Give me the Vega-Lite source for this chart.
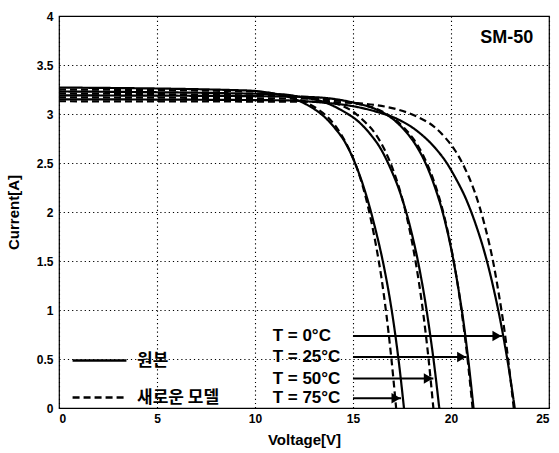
{
  "$schema": "https://vega.github.io/schema/vega-lite/v6.json",
  "width": 490,
  "height": 392,
  "autosize": {"type": "none"},
  "padding": {"left": 59, "top": 16, "right": 10, "bottom": 45},
  "background": "white",
  "config": {
    "view": {"stroke": "black", "strokeWidth": 1.2},
    "font": "Liberation Sans",
    "axis": {
      "grid": true,
      "gridColor": "black",
      "gridDash": [1.2, 3],
      "gridOpacity": 1,
      "gridWidth": 1.1,
      "domain": false,
      "ticks": false,
      "labelFont": "Liberation Sans",
      "labelFontWeight": "bold",
      "labelFontSize": 12,
      "labelColor": "black",
      "titleFont": "Liberation Sans",
      "titleFontWeight": "bold",
      "titleFontSize": 15,
      "titleColor": "black"
    }
  },
  "datasets": {
    "curves": [
      {"T": "75", "model": "원본", "V": 0, "I": 3.27},
      {"T": "75", "model": "원본", "V": 9.6, "I": 3.24},
      {"T": "75", "model": "원본", "V": 10.6, "I": 3.22},
      {"T": "75", "model": "원본", "V": 11.6, "I": 3.18},
      {"T": "75", "model": "원본", "V": 12.6, "I": 3.1},
      {"T": "75", "model": "원본", "V": 13.6, "I": 2.96},
      {"T": "75", "model": "원본", "V": 14.1, "I": 2.85},
      {"T": "75", "model": "원본", "V": 14.6, "I": 2.71},
      {"T": "75", "model": "원본", "V": 15.1, "I": 2.5},
      {"T": "75", "model": "원본", "V": 15.6, "I": 2.22},
      {"T": "75", "model": "원본", "V": 16.1, "I": 1.86},
      {"T": "75", "model": "원본", "V": 16.6, "I": 1.42},
      {"T": "75", "model": "원본", "V": 16.85, "I": 1.15},
      {"T": "75", "model": "원본", "V": 17.1, "I": 0.83},
      {"T": "75", "model": "원본", "V": 17.35, "I": 0.45},
      {"T": "75", "model": "원본", "V": 17.6, "I": 0},

      {"T": "75", "model": "새로운 모델", "V": 0, "I": 3.25},
      {"T": "75", "model": "새로운 모델", "V": 10, "I": 3.23},
      {"T": "75", "model": "새로운 모델", "V": 11.2, "I": 3.2},
      {"T": "75", "model": "새로운 모델", "V": 12.2, "I": 3.15},
      {"T": "75", "model": "새로운 모델", "V": 13.2, "I": 3.05},
      {"T": "75", "model": "새로운 모델", "V": 13.7, "I": 2.97},
      {"T": "75", "model": "새로운 모델", "V": 14.2, "I": 2.85},
      {"T": "75", "model": "새로운 모델", "V": 14.7, "I": 2.68},
      {"T": "75", "model": "새로운 모델", "V": 15.2, "I": 2.45},
      {"T": "75", "model": "새로운 모델", "V": 15.7, "I": 2.11},
      {"T": "75", "model": "새로운 모델", "V": 16.2, "I": 1.63},
      {"T": "75", "model": "새로운 모델", "V": 16.45, "I": 1.33},
      {"T": "75", "model": "새로운 모델", "V": 16.7, "I": 0.96},
      {"T": "75", "model": "새로운 모델", "V": 16.95, "I": 0.52},
      {"T": "75", "model": "새로운 모델", "V": 17.2, "I": 0},

      {"T": "50", "model": "원본", "V": 0, "I": 3.23},
      {"T": "50", "model": "원본", "V": 11.4, "I": 3.2},
      {"T": "50", "model": "원본", "V": 12.4, "I": 3.17},
      {"T": "50", "model": "원본", "V": 13.4, "I": 3.13},
      {"T": "50", "model": "원본", "V": 14.4, "I": 3.04},
      {"T": "50", "model": "원본", "V": 15.4, "I": 2.9},
      {"T": "50", "model": "원본", "V": 15.9, "I": 2.79},
      {"T": "50", "model": "원본", "V": 16.4, "I": 2.65},
      {"T": "50", "model": "원본", "V": 16.9, "I": 2.45},
      {"T": "50", "model": "원본", "V": 17.4, "I": 2.2},
      {"T": "50", "model": "원본", "V": 17.9, "I": 1.86},
      {"T": "50", "model": "원본", "V": 18.4, "I": 1.41},
      {"T": "50", "model": "원본", "V": 18.65, "I": 1.13},
      {"T": "50", "model": "원본", "V": 18.9, "I": 0.8},
      {"T": "50", "model": "원본", "V": 19.15, "I": 0.43},
      {"T": "50", "model": "원본", "V": 19.4, "I": 0},

      {"T": "50", "model": "새로운 모델", "V": 0, "I": 3.21},
      {"T": "50", "model": "새로운 모델", "V": 12.1, "I": 3.18},
      {"T": "50", "model": "새로운 모델", "V": 13.1, "I": 3.16},
      {"T": "50", "model": "새로운 모델", "V": 14.1, "I": 3.11},
      {"T": "50", "model": "새로운 모델", "V": 15.1, "I": 3.01},
      {"T": "50", "model": "새로운 모델", "V": 15.6, "I": 2.92},
      {"T": "50", "model": "새로운 모델", "V": 16.1, "I": 2.81},
      {"T": "50", "model": "새로운 모델", "V": 16.6, "I": 2.64},
      {"T": "50", "model": "새로운 모델", "V": 17.1, "I": 2.4},
      {"T": "50", "model": "새로운 모델", "V": 17.6, "I": 2.07},
      {"T": "50", "model": "새로운 모델", "V": 18.1, "I": 1.6},
      {"T": "50", "model": "새로운 모델", "V": 18.35, "I": 1.3},
      {"T": "50", "model": "새로운 모델", "V": 18.6, "I": 0.94},
      {"T": "50", "model": "새로운 모델", "V": 18.85, "I": 0.51},
      {"T": "50", "model": "새로운 모델", "V": 19.1, "I": 0},

      {"T": "25", "model": "원본", "V": 0, "I": 3.19},
      {"T": "25", "model": "원본", "V": 11.15, "I": 3.18},
      {"T": "25", "model": "원본", "V": 13.15, "I": 3.17},
      {"T": "25", "model": "원본", "V": 14.15, "I": 3.15},
      {"T": "25", "model": "원본", "V": 15.15, "I": 3.11},
      {"T": "25", "model": "원본", "V": 16.15, "I": 3.05},
      {"T": "25", "model": "원본", "V": 17.15, "I": 2.93},
      {"T": "25", "model": "원본", "V": 17.65, "I": 2.83},
      {"T": "25", "model": "원본", "V": 18.15, "I": 2.7},
      {"T": "25", "model": "원본", "V": 18.65, "I": 2.52},
      {"T": "25", "model": "원본", "V": 19.15, "I": 2.27},
      {"T": "25", "model": "원본", "V": 19.65, "I": 1.94},
      {"T": "25", "model": "원본", "V": 20.15, "I": 1.48},
      {"T": "25", "model": "원본", "V": 20.4, "I": 1.19},
      {"T": "25", "model": "원본", "V": 20.65, "I": 0.86},
      {"T": "25", "model": "원본", "V": 20.9, "I": 0.46},
      {"T": "25", "model": "원본", "V": 21.15, "I": 0},

      {"T": "25", "model": "새로운 모델", "V": 0, "I": 3.17},
      {"T": "25", "model": "새로운 모델", "V": 13.1, "I": 3.155},
      {"T": "25", "model": "새로운 모델", "V": 14.1, "I": 3.14},
      {"T": "25", "model": "새로운 모델", "V": 15.1, "I": 3.11},
      {"T": "25", "model": "새로운 모델", "V": 16.1, "I": 3.06},
      {"T": "25", "model": "새로운 모델", "V": 17.1, "I": 2.95},
      {"T": "25", "model": "새로운 모델", "V": 17.6, "I": 2.86},
      {"T": "25", "model": "새로운 모델", "V": 18.1, "I": 2.74},
      {"T": "25", "model": "새로운 모델", "V": 18.6, "I": 2.57},
      {"T": "25", "model": "새로운 모델", "V": 19.1, "I": 2.33},
      {"T": "25", "model": "새로운 모델", "V": 19.6, "I": 2.0},
      {"T": "25", "model": "새로운 모델", "V": 20.1, "I": 1.54},
      {"T": "25", "model": "새로운 모델", "V": 20.35, "I": 1.25},
      {"T": "25", "model": "새로운 모델", "V": 20.6, "I": 0.9},
      {"T": "25", "model": "새로운 모델", "V": 20.85, "I": 0.49},
      {"T": "25", "model": "새로운 모델", "V": 21.1, "I": 0},

      {"T": "0", "model": "원본", "V": 0, "I": 3.15},
      {"T": "0", "model": "원본", "V": 11.25, "I": 3.14},
      {"T": "0", "model": "원본", "V": 13.25, "I": 3.12},
      {"T": "0", "model": "원본", "V": 15.25, "I": 3.07},
      {"T": "0", "model": "원본", "V": 16.25, "I": 3.02},
      {"T": "0", "model": "원본", "V": 17.25, "I": 2.95},
      {"T": "0", "model": "원본", "V": 18.25, "I": 2.83},
      {"T": "0", "model": "원본", "V": 19.25, "I": 2.64},
      {"T": "0", "model": "원본", "V": 19.75, "I": 2.51},
      {"T": "0", "model": "원본", "V": 20.25, "I": 2.34},
      {"T": "0", "model": "원본", "V": 20.75, "I": 2.14},
      {"T": "0", "model": "원본", "V": 21.25, "I": 1.88},
      {"T": "0", "model": "원본", "V": 21.75, "I": 1.56},
      {"T": "0", "model": "원본", "V": 22.25, "I": 1.15},
      {"T": "0", "model": "원본", "V": 22.5, "I": 0.91},
      {"T": "0", "model": "원본", "V": 22.75, "I": 0.64},
      {"T": "0", "model": "원본", "V": 23.0, "I": 0.34},
      {"T": "0", "model": "원본", "V": 23.25, "I": 0},

      {"T": "0", "model": "새로운 모델", "V": 0, "I": 3.13},
      {"T": "0", "model": "새로운 모델", "V": 13.0, "I": 3.125},
      {"T": "0", "model": "새로운 모델", "V": 15.2, "I": 3.11},
      {"T": "0", "model": "새로운 모델", "V": 16.2, "I": 3.09},
      {"T": "0", "model": "새로운 모델", "V": 17.2, "I": 3.05},
      {"T": "0", "model": "새로운 모델", "V": 18.2, "I": 2.98},
      {"T": "0", "model": "새로운 모델", "V": 19.2, "I": 2.86},
      {"T": "0", "model": "새로운 모델", "V": 19.7, "I": 2.76},
      {"T": "0", "model": "새로운 모델", "V": 20.2, "I": 2.63},
      {"T": "0", "model": "새로운 모델", "V": 20.7, "I": 2.45},
      {"T": "0", "model": "새로운 모델", "V": 21.2, "I": 2.21},
      {"T": "0", "model": "새로운 모델", "V": 21.7, "I": 1.88},
      {"T": "0", "model": "새로운 모델", "V": 22.2, "I": 1.44},
      {"T": "0", "model": "새로운 모델", "V": 22.45, "I": 1.15},
      {"T": "0", "model": "새로운 모델", "V": 22.7, "I": 0.83},
      {"T": "0", "model": "새로운 모델", "V": 22.95, "I": 0.44},
      {"T": "0", "model": "새로운 모델", "V": 23.2, "I": 0}
    ],
    "arrows": [
      {"label": "T = 0°C", "tip": 22.6, "I": 0.735},
      {"label": "T = 25°C", "tip": 20.8, "I": 0.52},
      {"label": "T = 50°C", "tip": 19.1, "I": 0.3},
      {"label": "T = 75°C", "tip": 17.45, "I": 0.1}
    ]
  },
  "layer": [
    {
      "data": {"name": "curves"},
      "mark": {"type": "line", "strokeWidth": 2.2, "color": "black", "interpolate": "monotone"},
      "encoding": {
        "x": {
          "field": "V",
          "type": "quantitative",
          "scale": {"domain": [0, 25], "nice": false},
          "axis": {"title": "Voltage[V]", "values": [0, 5, 10, 15, 20, 25], "labelPadding": 5, "titlePadding": 8}
        },
        "y": {
          "field": "I",
          "type": "quantitative",
          "scale": {"domain": [0, 4], "nice": false},
          "axis": {"title": "Current[A]", "values": [0, 0.5, 1, 1.5, 2, 2.5, 3, 3.5, 4], "format": "~g", "labelPadding": 6, "titlePadding": 15}
        },
        "strokeDash": {
          "field": "model",
          "type": "nominal",
          "scale": {"domain": ["원본", "새로운 모델"], "range": [[1, 0], [7, 4]]},
          "legend": {
            "orient": "none",
            "legendX": 12,
            "legendY": 316,
            "title": null,
            "symbolType": "stroke",
            "symbolSize": 2900,
            "symbolStrokeWidth": 2.5,
            "symbolStrokeColor": "black",
            "labelFont": "Noto Sans CJK KR",
            "labelFontSize": 17,
            "labelFontWeight": "bold",
            "labelColor": "black",
            "labelOffset": 9,
            "rowPadding": 0
          }
        },
        "detail": {"field": "T", "type": "nominal"}
      }
    },
    {
      "data": {"name": "arrows"},
      "mark": {"type": "rule", "strokeWidth": 2, "color": "black"},
      "encoding": {
        "x": {"field": "tip", "type": "quantitative"},
        "x2": {"datum": 15},
        "y": {"field": "I", "type": "quantitative"}
      }
    },
    {
      "data": {"name": "arrows"},
      "mark": {"type": "point", "shape": "triangle-right", "filled": true, "color": "black", "opacity": 1, "size": 110, "xOffset": -5},
      "encoding": {
        "x": {"field": "tip", "type": "quantitative"},
        "y": {"field": "I", "type": "quantitative"}
      }
    },
    {
      "data": {"name": "arrows"},
      "mark": {"type": "text", "align": "left", "baseline": "middle", "font": "Liberation Sans", "fontWeight": "bold", "fontSize": 17, "color": "black"},
      "encoding": {
        "x": {"datum": 10.9, "type": "quantitative"},
        "y": {"field": "I", "type": "quantitative"},
        "text": {"field": "label"}
      }
    },
    {
      "data": {"values": [{"name": "SM-50"}]},
      "mark": {"type": "text", "align": "right", "baseline": "middle", "font": "Liberation Sans", "fontWeight": "bold", "fontSize": 18, "color": "black"},
      "encoding": {
        "x": {"datum": 24.2, "type": "quantitative"},
        "y": {"datum": 3.78, "type": "quantitative"},
        "text": {"field": "name"}
      }
    }
  ]
}
